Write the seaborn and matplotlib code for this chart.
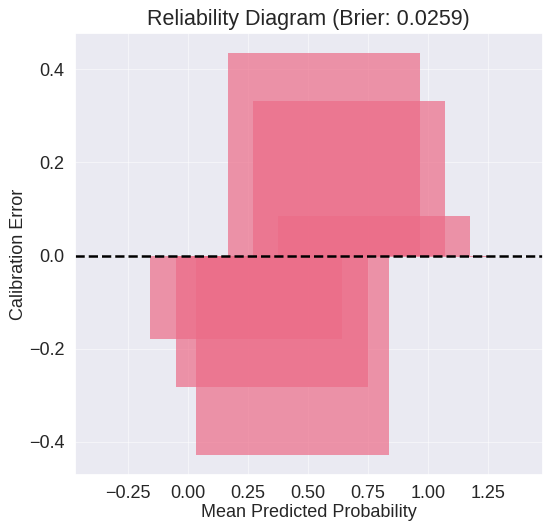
import seaborn as sns
import matplotlib.pyplot as plt
import pandas as pd

sns.set_theme(style="darkgrid")
plt.rcParams['font.family'] = ['Liberation Sans', 'DejaVu Sans']

# mean predicted probability per bin and calibration error (fraction positives - mean predicted)
mean_pred = [0.243, 0.349, 0.435, 0.567, 0.671, 0.775, 0.857]
calib_err = [-0.179, -0.283, -0.428, 0.434, 0.331, 0.085, -0.003]
brier = 0.0259

df = pd.DataFrame({'Mean Predicted Probability': mean_pred, 'Calibration Error': calib_err})

f, ax = plt.subplots(figsize=(5.5, 5.3), dpi=100)
f.subplots_adjust(left=0.136, right=0.987, top=0.937, bottom=0.104)

ax.bar(df['Mean Predicted Probability'], df['Calibration Error'], width=0.8,
       color='#EC6C88', alpha=0.7, linewidth=0)
ax.axhline(0, color='black', linestyle='--', linewidth=1.8)

ax.set_xlim(-0.472, 1.478)
ax.set_xticks([-0.25, 0.0, 0.25, 0.5, 0.75, 1.0, 1.25])
ax.set_yticks([-0.4, -0.2, 0.0, 0.2, 0.4])
ax.grid(color='white', linewidth=0.6, alpha=0.6)
ax.tick_params(labelsize=13, colors='#262626', pad=1.5)
ax.set_xlabel('Mean Predicted Probability', fontsize=13, color='#262626', labelpad=1.5)
ax.set_ylabel('Calibration Error', fontsize=13, color='#262626', labelpad=1)
ax.set_title('Reliability Diagram (Brier: {})'.format(brier), fontsize=15.5, color='#262626')

f.savefig('out.png', dpi=100)
